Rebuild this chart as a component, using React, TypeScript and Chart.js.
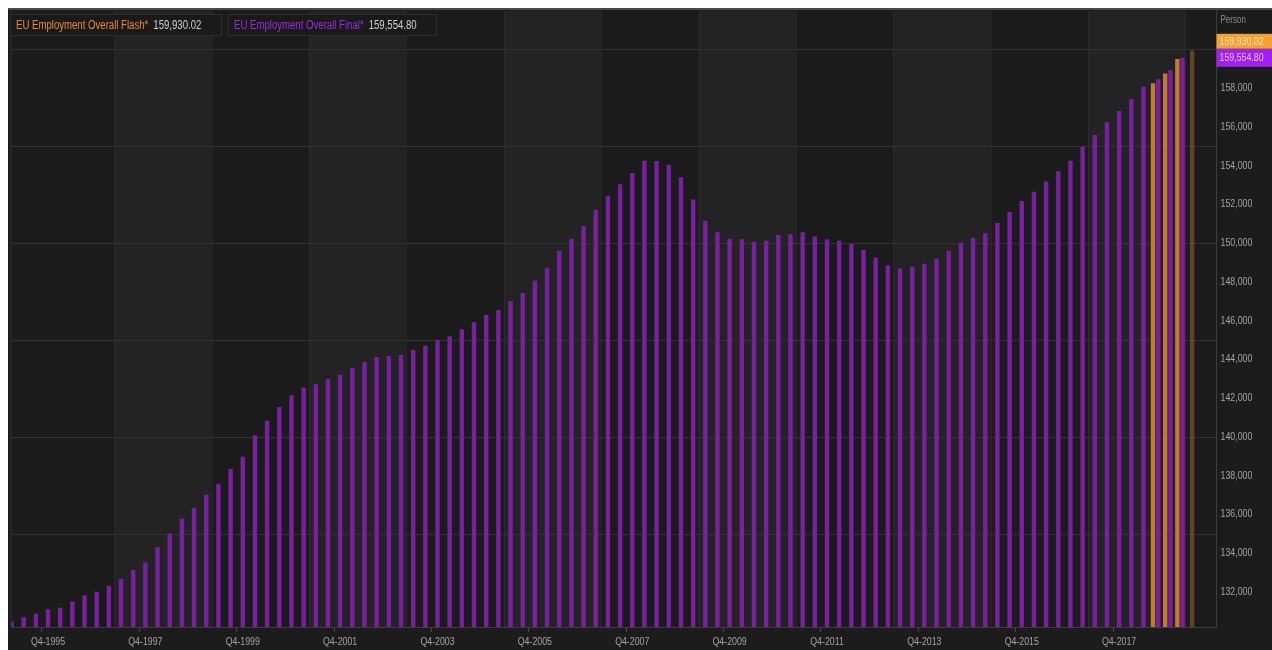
import React, { useEffect, useRef } from "react";
import { Chart, registerables } from "chart.js";

Chart.register(...registerables);

// ---------- data ----------
const years = [1995, 1996, 1997, 1998, 1999, 2000, 2001, 2002, 2003, 2004, 2005, 2006, 2007, 2008, 2009, 2010, 2011, 2012, 2013, 2014, 2015, 2016, 2017, 2018, 2019];
const quarterNames = ["Q1", "Q2", "Q3", "Q4"];
const categories: string[] = years.flatMap((yr) => quarterNames.map((q) => `${q}-${yr}`));

// EU Employment Overall Final* (Q1-1995 ... Q1-2019), thousands of persons
const finalValues = [
  130460, 130690, 130870, 131110, 131180, 131510, 131820, 132010,
  132320, 132680, 133130, 133520, 134310, 135020, 135790, 136340,
  137010, 137580, 138340, 138970, 140080, 140830, 141540, 142140,
  142550, 142720, 142980, 143200, 143550, 143860, 144120, 144170,
  144220, 144480, 144700, 145010, 145190, 145550, 145910, 146290,
  146540, 147010, 147420, 148060, 148730, 149600, 150210, 150880,
  151700, 152440, 153030, 153610, 154250, 154230, 154030, 153390,
  152240, 151150, 150550, 150220, 150190, 150070, 150120, 150410,
  150450, 150550, 150330, 150190, 150120, 149950, 149640, 149240,
  148850, 148680, 148780, 148930, 149190, 149600, 150020, 150260,
  150500, 151030, 151600, 152170, 152650, 153170, 153700, 154250,
  154970, 155570, 156230, 156810, 157420, 158070, 158450, 158930,
  159554.8,
];

// EU Employment Overall Flash*
const flashQuarters = ["Q3-2018", "Q4-2018", "Q1-2019", "Q2-2019"];
const flashValues = [158240, 158740, 159500, 159930.02];

const xTickLabels = ["Q4-1995", "Q4-1997", "Q4-1999", "Q4-2001", "Q4-2003", "Q4-2005", "Q4-2007", "Q4-2009", "Q4-2011", "Q4-2013", "Q4-2015", "Q4-2017"];
const yTickValues = [132000, 134000, 136000, 138000, 140000, 142000, 144000, 146000, 148000, 150000, 152000, 154000, 156000, 158000];
const yGridValues = [135000, 140000, 145000, 150000, 155000, 160000];

const seriesNames = ["EU Employment Overall Flash*", "EU Employment Overall Final*"];
const lastFlash = 159930.02;
const lastFinal = 159554.8;
const unitLabel = "Person";

// ---------- styles ----------
const FONT = '"Liberation Sans", Arial, sans-serif';
const NARROW = 0.8;
const ORANGE_BAR = "#c27a32";
const ORANGE_BAR_FAINT = "rgba(194,122,50,0.42)";
const ORANGE_BRIGHT = "#f5a033";
const PURPLE_BAR = "#7b1fa2";
const PURPLE_BRIGHT = "#a020f0";
const LABEL_GRAY = "#a3a3a3";

const fmt2 = (v: number) => v.toLocaleString("en-US", { minimumFractionDigits: 2, maximumFractionDigits: 2 });

const flashData = categories.map((c) => {
  const i = flashQuarters.indexOf(c);
  return i >= 0 ? flashValues[i] : null;
});
const finalData = categories.map((_, i) => (i < finalValues.length ? finalValues[i] : null));

function narrowText(ctx: CanvasRenderingContext2D, text: string, x: number, y: number, size: number, color: string, align: "left" | "center" | "right" = "left") {
  ctx.save();
  ctx.font = `${size}px ${FONT}`;
  ctx.fillStyle = color;
  ctx.textBaseline = "middle";
  ctx.textAlign = "left";
  const w = ctx.measureText(text).width * NARROW;
  const x0 = align === "center" ? x - w / 2 : align === "right" ? x - w : x;
  ctx.translate(x0, y);
  ctx.scale(NARROW, 1);
  ctx.fillText(text, 0, 0);
  ctx.restore();
  return w;
}

const backgroundPlugin = {
  id: "bgBands",
  beforeDraw(chart: any) {
    const { ctx, chartArea: a, scales } = chart;
    const x = scales.x;
    const y = scales.y;
    ctx.save();
    ctx.fillStyle = "#1c1c1d";
    ctx.fillRect(0, 0, chart.width, chart.height);
    ctx.fillStyle = "#1b1b1c";
    ctx.fillRect(a.left, a.top, a.right - a.left, a.bottom - a.top);
    ctx.fillStyle = "#232324";
    for (let s = 8.45; s < categories.length; s += 16) {
      const x0 = Math.max(a.left, x.getPixelForValue(s));
      const x1 = Math.min(a.right, x.getPixelForValue(s + 8));
      if (x1 > x0) ctx.fillRect(x0, a.top, x1 - x0, a.bottom - a.top);
    }
    ctx.strokeStyle = "rgba(60,60,60,0.35)";
    ctx.lineWidth = 1;
    for (let s = 8.45; s < categories.length; s += 8) {
      const px = Math.round(x.getPixelForValue(s)) + 0.5;
      if (px > a.left && px < a.right) {
        ctx.beginPath();
        ctx.moveTo(px, a.top);
        ctx.lineTo(px, a.bottom);
        ctx.stroke();
      }
    }
    ctx.strokeStyle = "#313132";
    for (const v of yGridValues) {
      const py = Math.round(y.getPixelForValue(v)) + 0.5;
      ctx.beginPath();
      ctx.moveTo(a.left, py);
      ctx.lineTo(a.right, py);
      ctx.stroke();
    }
    ctx.fillStyle = "#4a4a4a";
    ctx.fillRect(0, 0, chart.width, 2);
    ctx.fillStyle = "#333334";
    ctx.fillRect(a.left - 1, a.top, 1, a.bottom - a.top);
    ctx.restore();
  },
  afterDraw(chart: any) {
    const { ctx, chartArea: a, scales } = chart;
    const x = scales.x;
    const y = scales.y;
    ctx.save();

    // x tick labels
    x.ticks.forEach((_t: any, i: number) => {
      const lab = categories[i];
      if (xTickLabels.includes(lab)) {
        narrowText(ctx, lab, x.getPixelForTick(i), a.bottom + 15, 11, LABEL_GRAY, "center");
      }
    });
    // y tick labels
    y.ticks.forEach((t: any) => {
      narrowText(ctx, Number(t.value).toLocaleString("en-US"), a.right + 4, y.getPixelForValue(t.value), 11, LABEL_GRAY, "left");
    });

    // legend boxes
    const drawLegend = (bx0: number, bx1: number, name: string, color: string, value: number) => {
      ctx.fillStyle = "#1a1a1a";
      ctx.fillRect(bx0, 6, bx1 - bx0, 22);
      ctx.strokeStyle = "#2e2e2f";
      ctx.lineWidth = 1;
      ctx.strokeRect(bx0 + 0.5, 6.5, bx1 - bx0 - 1, 21);
      const w = narrowText(ctx, name, bx0 + 6, 17.5, 12, color, "left");
      narrowText(ctx, fmt2(value), bx0 + 6 + w + 5, 17.5, 12, "#cfcfcf", "left");
    };
    drawLegend(2, 214, seriesNames[0], "#e8872b", lastFlash);
    drawLegend(220, 429, seriesNames[1], "#9a2be0", lastFinal);

    // unit label
    narrowText(ctx, unitLabel, a.right + 4, 12, 10, "#8a8a8a", "left");

    // current value boxes
    const boxX = a.right;
    const boxW = chart.width - a.right;
    const pY = y.getPixelForValue(lastFinal);
    const pH = 18;
    const pTop = pY - pH / 2;
    const oH = 15;
    let oTop = y.getPixelForValue(lastFlash) - oH / 2;
    if (oTop + oH > pTop) oTop = pTop - oH;
    ctx.fillStyle = ORANGE_BRIGHT;
    ctx.fillRect(boxX, oTop, boxW, oH);
    narrowText(ctx, fmt2(lastFlash), boxX + 3, oTop + oH / 2 + 0.5, 11, "rgba(255,240,220,0.85)", "left");
    ctx.fillStyle = PURPLE_BRIGHT;
    ctx.fillRect(boxX, pTop, boxW, pH);
    narrowText(ctx, fmt2(lastFinal), boxX + 3, pTop + pH / 2 + 0.5, 11, "rgba(240,220,255,0.85)", "left");
    ctx.restore();
  },
};

export default function App() {
  const canvasRef = useRef<HTMLCanvasElement | null>(null);

  useEffect(() => {
    if (!canvasRef.current) return;
    const chart = new Chart(canvasRef.current, {
      type: "bar",
      data: {
        labels: categories,
        datasets: [
          {
            label: seriesNames[0],
            data: flashData,
            backgroundColor: (c: any) => (c.dataIndex === categories.indexOf(flashQuarters[flashQuarters.length - 1]) ? ORANGE_BAR_FAINT : ORANGE_BAR),
            borderWidth: 0,
            skipNull: true,
            categoryPercentage: 0.86,
            barPercentage: 1,
            maxBarThickness: 4.4,
          },
          {
            label: seriesNames[1],
            data: finalData,
            backgroundColor: PURPLE_BAR,
            borderWidth: 0,
            skipNull: true,
            categoryPercentage: 0.86,
            barPercentage: 1,
            maxBarThickness: 4.4,
          },
        ],
      },
      options: {
        responsive: false,
        animation: false,
        devicePixelRatio: 1,
        layout: { padding: { left: 3.5, top: 3, right: 0, bottom: 0 } },
        plugins: {
          legend: { display: false },
          tooltip: { enabled: false },
        },
        scales: {
          x: {
            type: "category",
            offset: false,
            grid: {
              display: true,
              drawOnChartArea: false,
              drawTicks: true,
              tickLength: 5,
              color: (c: any) => (xTickLabels.includes(categories[c.index]) ? "#4a4a4b" : "rgba(0,0,0,0)"),
            },
            border: { display: true, color: "#3d3d3e" },
            ticks: { display: false, autoSkip: false },
            afterFit: (s: any) => {
              s.height = 23;
            },
          },
          y: {
            type: "linear",
            position: "right",
            min: 130190,
            max: 161970,
            grid: { display: false },
            border: { display: true, color: "#3d3d3e" },
            ticks: { display: false },
            afterBuildTicks: (s: any) => {
              s.ticks = yTickValues.map((v) => ({ value: v }));
            },
            afterFit: (s: any) => {
              s.width = 55.5;
            },
          },
        },
      },
      plugins: [backgroundPlugin],
    } as any);
    return () => chart.destroy();
  }, []);

  return (
    <div style={{ position: "fixed", left: 8, top: 8, width: 1264, height: 642, background: "#1c1c1d" }}>
      <canvas ref={canvasRef} width={1264} height={642} style={{ display: "block", width: 1264, height: 642 }} />
    </div>
  );
}
